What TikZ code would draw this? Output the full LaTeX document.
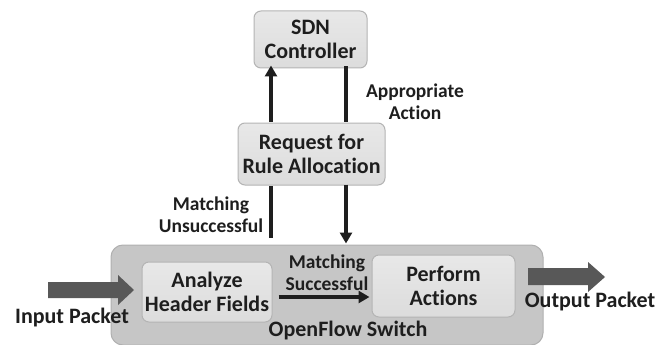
\documentclass[tikz,border=0pt]{standalone}
\usepackage{fontspec}
\setmainfont{Carlito}[Ligatures={NoCommon}]
\usetikzlibrary{arrows.meta}
\definecolor{boxfill}{HTML}{DCDCDC}
\definecolor{boxtop}{HTML}{E8E8E8}
\definecolor{boxedge}{HTML}{B4B4B4}
\definecolor{switchfill}{HTML}{C6C6C6}
\definecolor{switchedge}{HTML}{B0B0B0}
\definecolor{fatarrow}{HTML}{585858}
\definecolor{ink}{HTML}{1E1E1E}
\tikzset{
  procbox/.style={draw=boxedge, line width=1pt, rounded corners=7pt,
    top color=boxtop, bottom color=boxfill, align=center,
    font=\bfseries\fontsize{22}{24}\selectfont, text=ink, inner sep=0pt},
  label/.style={align=center, font=\bfseries\fontsize{19.5}{22}\selectfont, text=ink},
  biglabel/.style={align=center, font=\bfseries\fontsize{22}{24}\selectfont, text=ink},
  flow/.style={line width=3.5pt, draw=ink},
  flowtip/.style={flow, -{Triangle[length=11pt,width=12pt]}},
}
\begin{document}
\begin{tikzpicture}[x=1pt,y=-1pt]
\useasboundingbox (0,0) rectangle (656,345);
\fill[white] (0,0) rectangle (656,345);

% switch container
\node[draw=switchedge, fill=switchfill, line width=1pt, rounded corners=12pt,
      minimum width=432pt, minimum height=100pt] (switch) at (327,295) {};
\node[biglabel] (swname) at (348,331) {OpenFlow Switch};

% process boxes
\node[procbox, minimum width=113pt, minimum height=57pt] (sdn) at (310.5,39.5)
  {SDN\\Controller};
\node[procbox, minimum width=147pt, minimum height=62pt] (req) at (311.5,154)
  {Request for\\Rule Allocation};
\node[procbox, minimum width=130pt, minimum height=60pt] (ana) at (207,292)
  {Analyze\\Header Fields};
\node[procbox, minimum width=143pt, minimum height=62pt] (perf) at (443.5,286)
  {Perform\\Actions};

% vertical lanes and the inner flow level
\coordinate (upx) at (271,0);
\coordinate (dnx) at (346,0);
\coordinate (midy) at (0,297);

% request path: switch -> request -> controller
\draw[flow] ([yshift=7pt]switch.north -| upx) -- (req.south -| upx);
\draw[flowtip] ([yshift=1pt]req.north -| upx) -- ([yshift=3pt]sdn.south -| upx);
% response path: controller -> request -> switch
\draw[flow] ([yshift=2pt]sdn.south -| dnx) -- ([yshift=1pt]req.north -| dnx);
\draw[flowtip] ([yshift=1pt]req.south -| dnx) -- ([yshift=1pt]switch.north -| dnx);
% inside the switch
\draw[flowtip] ([xshift=6pt]ana.east |- midy) -- ([xshift=-2pt]perf.west |- midy);

\node[label] (unsucc) at (211,215) {Matching\\Unsuccessful};
\node[label] (approp) at (415,102) {Appropriate\\Action};
\node[label] (succ) at (327,273) {Matching\\Successful};

% packet arrows
\fill[fatarrow] (48,282) -- (118,282) -- (118,275) -- (134,290) -- (118,305)
  -- (118,298) -- (48,298) -- cycle;
\fill[fatarrow] (528,268) -- (588,268) -- (588,262) -- (605,277) -- (588,292)
  -- (588,285) -- (528,285) -- cycle;
\node[biglabel] (inp) at (72,318) {Input Packet};
\node[biglabel] (outp) at (590,302) {Output Packet};
\end{tikzpicture}
\end{document}
